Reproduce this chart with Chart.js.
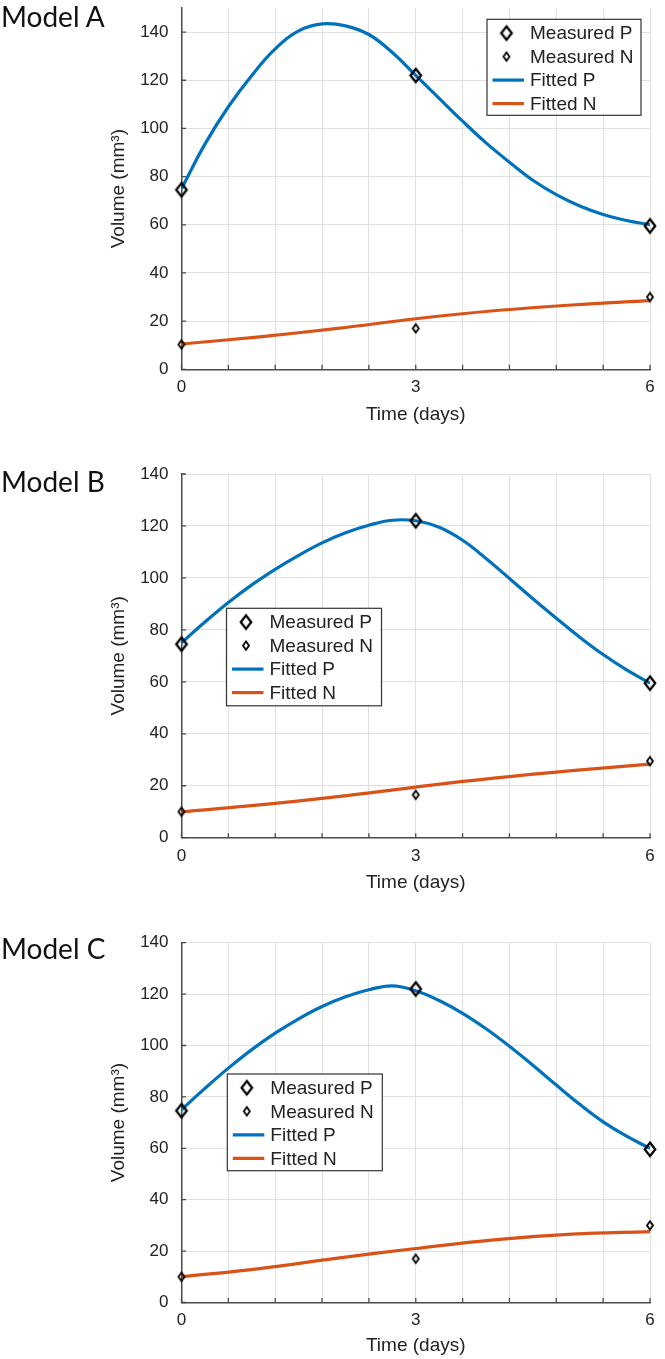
<!DOCTYPE html>
<html>
<head>
<meta charset="utf-8">
<script src="https://cdn.jsdelivr.net/npm/chart.js@4.4.1/dist/chart.umd.min.js"></script>
<style>
body { margin: 0; background: #fff; }
#page { position: relative; width: 665px; height: 1359px; overflow: hidden; }
.panel { position: absolute; left: 0; }
.model { position: absolute; left: 1px; font-family: Lato, sans-serif; font-size: 28px; line-height: 27px; color: #111; white-space: nowrap; }
</style>
</head>
<body>
<div id="page"></div>
<script>
// values
const measuredT = [0, 3, 6];
const fitT = [0, 0.3, 0.6, 0.9, 1.2, 1.5, 1.8, 2.1, 2.4, 2.7, 3.0, 3.3, 3.6, 3.9, 4.2, 4.5, 4.8, 5.1, 5.4, 5.7, 6.0];
const nT = [0, 1, 2, 3, 4, 5, 6];

const measuredP_A = [74.5, 122, 59.5];
const measuredN_A = [10.3, 17, 30];
const fittedP_A = [75, 93.5, 109, 122, 133, 140.5, 143.4, 142.6, 139, 131.5, 122, 112.5, 103, 94, 86, 78.5, 72.5, 67.8, 64.3, 61.8, 60];
const fittedN_A = [10.5, 13.5, 17, 21, 24.3, 26.7, 28.5];

const measuredP_B = [74.5, 122, 59.5];
const measuredN_B = [10, 16.5, 29.5];
const fittedP_B = [75, 83, 90.5, 97.3, 103.3, 108.7, 113.5, 117.4, 120.3, 122.2, 122, 119.5, 114.5, 107.5, 99.8, 92, 84.5, 77.2, 70.5, 64.6, 59.5];
const fittedN_B = [10, 12.6, 15.8, 19.5, 22.9, 25.8, 28.3];

const measuredP_C = [74.6, 122, 59.6];
const measuredN_C = [10, 17, 30];
const fittedP_C = [75, 83.3, 91.2, 98.4, 104.8, 110.4, 115.2, 119, 121.7, 123.2, 121.3, 117.5, 112.5, 106.5, 99.7, 92.3, 84.6, 77.1, 70.3, 64.7, 60];
const fittedN_C = [10, 13.2, 17.3, 21, 24.4, 26.6, 27.6];

const xTicksLabelled = [0, 3, 6];
const seriesNames = ['Measured P', 'Measured N', 'Fitted P', 'Fitted N'];

// page layout of the three panels
const panels = [
    { name: 'Model A', top: 0, height: 455, areaTop: 6, areaBottom: 369.3, xTitle: 415, labelTop: 3.3, yMax: 150,
      legend: { x: 487, y: 19.3, w: 154, h: 96 },
      mp: measuredP_A, mn: measuredN_A, fp: fittedP_A, fn: fittedN_A },
    { name: 'Model B', top: 455, height: 450, areaTop: 474, areaBottom: 837.7, xTitle: 882.7, labelTop: 468, yMax: 140,
      legend: { x: 226.5, y: 153.3, w: 155, h: 97.5 },
      mp: measuredP_B, mn: measuredN_B, fp: fittedP_B, fn: fittedN_B },
    { name: 'Model C', top: 905, height: 454, areaTop: 942.7, areaBottom: 1302.5, xTitle: 1346, labelTop: 935, yMax: 140,
      legend: { x: 227.3, y: 169, w: 155, h: 96.7 },
      mp: measuredP_C, mn: measuredN_C, fp: fittedP_C, fn: fittedN_C }
];

const BLUE = '#0072BD';
const ORANGE = '#D95319';
const AXIS = '#4a4a4a';
const GRID = '#e0e0e0';
const TEXT = '#222';

function diamond(w, h, lw) {
    const c = document.createElement('canvas');
    c.width = Math.ceil(w + lw * 2);
    c.height = Math.ceil(h + lw * 2);
    const g = c.getContext('2d');
    const cx = c.width / 2, cy = c.height / 2;
    g.strokeStyle = '#000';
    g.lineWidth = lw;
    g.beginPath();
    g.moveTo(cx, cy - h / 2);
    g.lineTo(cx + w / 2, cy);
    g.lineTo(cx, cy + h / 2);
    g.lineTo(cx - w / 2, cy);
    g.closePath();
    g.stroke();
    return c;
}
const bigDiamond = diamond(10.5, 13.5, 2.3);
const smallDiamond = diamond(6, 8.5, 1.8);

function pts(xs, ys) {
    return xs.map((x, i) => ({ x: x, y: ys[i] }));
}

// small inward tick marks on the left and bottom axes
const innerTicks = {
    id: 'innerTicks',
    beforeDatasetsDraw(chart) {
        const { ctx, chartArea, scales } = chart;
        ctx.save();
        ctx.strokeStyle = AXIS;
        ctx.lineWidth = 1.3;
        ctx.beginPath();
        scales.x.ticks.forEach((t, i) => {
            const px = scales.x.getPixelForTick(i);
            ctx.moveTo(px, chartArea.bottom);
            ctx.lineTo(px, chartArea.bottom - 4.5);
        });
        scales.y.ticks.forEach((t, i) => {
            const py = scales.y.getPixelForTick(i);
            ctx.moveTo(chartArea.left, py);
            ctx.lineTo(chartArea.left + 4.5, py);
        });
        ctx.stroke();
        ctx.restore();
    }
};

// boxed legend placed inside the axes
const boxLegend = {
    id: 'boxLegend',
    afterDraw(chart, args, opts) {
        const ctx = chart.ctx;
        ctx.save();
        ctx.fillStyle = '#fff';
        ctx.fillRect(opts.x, opts.y, opts.w, opts.h);
        ctx.strokeStyle = '#333';
        ctx.lineWidth = 1.2;
        ctx.strokeRect(opts.x, opts.y, opts.w, opts.h);
        ctx.font = '19px "Liberation Sans", Arial, sans-serif';
        ctx.textBaseline = 'middle';
        ctx.fillStyle = TEXT;
        chart.data.datasets.forEach((ds, i) => {
            const cy = opts.y + 13.8 + i * 23.5;
            if (ds.showLine) {
                ctx.strokeStyle = ds.borderColor;
                ctx.lineWidth = 3.2;
                ctx.beginPath();
                ctx.moveTo(opts.x + 5.5, cy);
                ctx.lineTo(opts.x + 37, cy);
                ctx.stroke();
            } else {
                const im = ds.pointStyle;
                ctx.drawImage(im, opts.x + 19.5 - im.width / 2, cy - im.height / 2);
            }
            ctx.fillText(ds.label, opts.x + 43, cy + 1);
        });
        ctx.restore();
    }
};

const page = document.getElementById('page');

panels.forEach(p => {
    const div = document.createElement('div');
    div.className = 'panel';
    div.style.top = p.top + 'px';
    const cv = document.createElement('canvas');
    cv.width = 665;
    cv.height = p.height;
    div.appendChild(cv);
    page.appendChild(div);

    const lab = document.createElement('div');
    lab.className = 'model';
    lab.style.top = p.labelTop + 'px';
    lab.textContent = p.name;
    page.appendChild(lab);

    const xAxisH = (p.xTitle + 11.4) - p.areaBottom;
    const padBottom = p.top + p.height - (p.xTitle + 11.4);

    new Chart(cv, {
        type: 'scatter',
        data: {
            datasets: [
                { label: seriesNames[0], data: pts(measuredT, p.mp), pointStyle: bigDiamond, pointRadius: 7, showLine: false, clip: false },
                { label: seriesNames[1], data: pts(measuredT, p.mn), pointStyle: smallDiamond, pointRadius: 4, showLine: false, clip: false },
                { label: seriesNames[2], data: pts(fitT, p.fp), showLine: true, borderColor: BLUE, borderWidth: 3.2, pointRadius: 0, tension: 0.4 },
                { label: seriesNames[3], data: pts(nT, p.fn), showLine: true, borderColor: ORANGE, borderWidth: 3.2, pointRadius: 0, tension: 0.4 }
            ]
        },
        options: {
            responsive: false,
            animation: false,
            events: [],
            layout: { padding: { left: 103.3, right: 15, top: p.areaTop - p.top, bottom: padBottom } },
            plugins: {
                legend: { display: false },
                tooltip: { enabled: false },
                boxLegend: p.legend
            },
            scales: {
                x: {
                    type: 'linear',
                    min: 0,
                    max: 6,
                    border: { color: AXIS, width: 1.5 },
                    grid: { color: GRID, lineWidth: 1, drawTicks: false },
                    ticks: {
                        stepSize: 0.6,
                        autoSkip: false,
                        maxRotation: 0,
                        padding: 8,
                        color: TEXT,
                        font: { family: '"Liberation Sans", Arial, sans-serif', size: 17 },
                        callback: v => xTicksLabelled.some(t => Math.abs(t - v) < 1e-6) ? String(Math.round(v)) : ''
                    },
                    title: {
                        display: true,
                        text: 'Time (days)',
                        color: TEXT,
                        padding: { top: 4, bottom: 0 },
                        font: { family: '"Liberation Sans", Arial, sans-serif', size: 19 }
                    },
                    afterFit: s => {
                        s.height = xAxisH;
                        s.paddingLeft = 0;
                        s.paddingRight = 0;
                    }
                },
                y: {
                    min: 0,
                    max: p.yMax,
                    border: { color: AXIS, width: 1.5 },
                    grid: { color: GRID, lineWidth: 1, drawTicks: false },
                    ticks: {
                        stepSize: 20,
                        padding: 13,
                        color: TEXT,
                        font: { family: '"Liberation Sans", Arial, sans-serif', size: 17 }
                    },
                    afterBuildTicks: s => {
                        s.ticks = s.ticks.filter(t => t.value % 20 === 0 && t.value <= 140);
                    },
                    title: {
                        display: true,
                        text: 'Volume (mm³)',
                        color: TEXT,
                        padding: { top: 4, bottom: 4 },
                        font: { family: '"Liberation Sans", Arial, sans-serif', size: 19 }
                    },
                    afterFit: s => {
                        s.width = 181.5 - 103.3;
                        s.paddingTop = 0;
                        s.paddingBottom = 0;
                    }
                }
            }
        },
        plugins: [innerTicks, boxLegend]
    });
});
</script>
</body>
</html>
